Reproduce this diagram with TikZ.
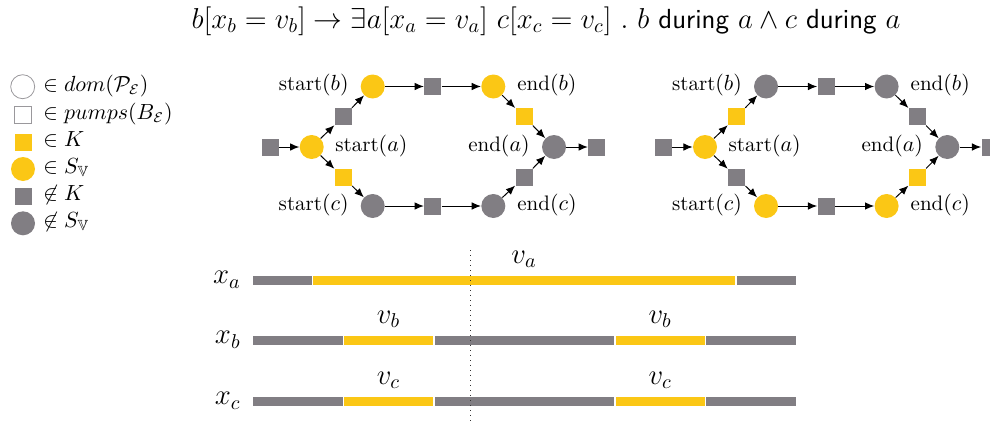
\documentclass[tikz,border=0pt]{standalone}
\usepackage{amsmath,amssymb}
\usetikzlibrary{arrows.meta}
\definecolor{myyellow}{HTML}{FBC715}
\definecolor{mygray}{HTML}{817E83}
\begin{document}
\begin{tikzpicture}[x=0.5pt,y=-0.5pt,
  yc/.style={circle,fill=myyellow,minimum size=12pt,inner sep=0pt},
  gc/.style={circle,fill=mygray,minimum size=12pt,inner sep=0pt},
  ys/.style={rectangle,fill=myyellow,minimum size=8.5pt,inner sep=0pt},
  gs/.style={rectangle,fill=mygray,minimum size=8.5pt,inner sep=0pt},
  oc/.style={circle,draw=mygray!80,fill=white,line width=0.4pt,minimum size=12pt,inner sep=0pt},
  os/.style={rectangle,draw=mygray!80,fill=white,line width=0.4pt,minimum size=8.5pt,inner sep=0pt},
  arr/.style={-{Latex[length=4.6pt,width=3.8pt]},line width=0.5pt},
  lbl/.style={inner sep=0pt,font=\fontsize{10.5}{12}\selectfont},
  big/.style={inner sep=0pt,font=\fontsize{13.8}{16}\selectfont}
]
\useasboundingbox (0,0) rectangle (990,428);

% title
\node[big,anchor=base] (title) at (546,28) {$b[x_b = v_b] \rightarrow \exists a[x_a = v_a]\ c[x_c = v_c]\ .\ b\ \textsf{during}\ a \wedge c\ \textsf{during}\ a$};

% legend
\node[oc] (l1) at (22.7,86.7) {};
\node[os] (l2) at (23,115) {};
\node[ys] (l3) at (23,142) {};
\node[yc] (l4) at (23,169) {};
\node[gs] (l5) at (23,196.5) {};
\node[gc] (l6) at (23,223.3) {};
\node[lbl,anchor=mid west] (t1) at (43,86.7) {$\in dom(\mathcal{P}_{\mathcal{E}})$};
\node[lbl,anchor=mid west] (t2) at (43,115) {$\in pumps(B_{\mathcal{E}})$};
\node[lbl,anchor=mid west] (t3) at (43,142) {$\in K$};
\node[lbl,anchor=mid west] (t4) at (43,169) {$\in S_{\mathbb{V}}$};
\node[lbl,anchor=mid west] (t5) at (43,196.5) {$\not\in K$};
\node[lbl,anchor=mid west] (t6) at (43,223.3) {$\not\in S_{\mathbb{V}}$};

% graph 1
\node[gs] (Ain) at (270,147) {};
\node[yc] (Asa) at (311.7,147) {};
\node[gs] (Aq1) at (343.3,116.7) {};
\node[yc] (Asb) at (372.7,86.5) {};
\node[gs] (Aq2) at (432.7,86.5) {};
\node[yc] (Aeb) at (493.3,86.5) {};
\node[ys] (Aq3) at (524,116.7) {};
\node[gc] (Aea) at (554,147) {};
\node[gs] (Aout) at (596.7,147) {};
\node[ys] (Aq4) at (343.3,177.3) {};
\node[gc] (Asc) at (372.7,206) {};
\node[gs] (Aq5) at (432.7,206) {};
\node[gc] (Aec) at (493.3,206) {};
\node[gs] (Aq6) at (524,177.3) {};
\draw[arr] (Ain) -- (Asa);
\draw[arr] (Asa) -- (Aq1);
\draw[arr] (Aq1) -- (Asb);
\draw[arr] (Asb) -- (Aq2);
\draw[arr] (Aq2) -- (Aeb);
\draw[arr] (Aeb) -- (Aq3);
\draw[arr] (Aq3) -- (Aea);
\draw[arr] (Aea) -- (Aout);
\draw[arr] (Asa) -- (Aq4);
\draw[arr] (Aq4) -- (Asc);
\draw[arr] (Asc) -- (Aq5);
\draw[arr] (Aq5) -- (Aec);
\draw[arr] (Aec) -- (Aq6);
\draw[arr] (Aq6) -- (Aea);
\node[lbl,anchor=mid east] (Alsb) at (349,86.5) {start$(b)$};
\node[lbl,anchor=mid west] (Alsa) at (335,147) {start$(a)$};
\node[lbl,anchor=mid west] (Aleb) at (517,86.5) {end$(b)$};
\node[lbl,anchor=mid east] (Alea) at (530,147) {end$(a)$};
\node[lbl,anchor=mid east] (Alsc) at (349,206) {start$(c)$};
\node[lbl,anchor=mid west] (Alec) at (517,206) {end$(c)$};

% graph 2
\begin{scope}[shift={(393.3,0)}]
\node[gs] (Bin) at (270,147) {};
\node[yc] (Bsa) at (311.7,147) {};
\node[ys] (Bq1) at (343.3,116.7) {};
\node[gc] (Bsb) at (372.7,86.5) {};
\node[gs] (Bq2) at (432.7,86.5) {};
\node[gc] (Beb) at (493.3,86.5) {};
\node[gs] (Bq3) at (524,116.7) {};
\node[gc] (Bea) at (554,147) {};
\node[gs] (Bout) at (596.7,147) {};
\node[gs] (Bq4) at (343.3,177.3) {};
\node[yc] (Bsc) at (372.7,206) {};
\node[gs] (Bq5) at (432.7,206) {};
\node[yc] (Bec) at (493.3,206) {};
\node[ys] (Bq6) at (524,177.3) {};
\draw[arr] (Bin) -- (Bsa);
\draw[arr] (Bsa) -- (Bq1);
\draw[arr] (Bq1) -- (Bsb);
\draw[arr] (Bsb) -- (Bq2);
\draw[arr] (Bq2) -- (Beb);
\draw[arr] (Beb) -- (Bq3);
\draw[arr] (Bq3) -- (Bea);
\draw[arr] (Bea) -- (Bout);
\draw[arr] (Bsa) -- (Bq4);
\draw[arr] (Bq4) -- (Bsc);
\draw[arr] (Bsc) -- (Bq5);
\draw[arr] (Bq5) -- (Bec);
\draw[arr] (Bec) -- (Bq6);
\draw[arr] (Bq6) -- (Bea);
\node[lbl,anchor=mid east] (Blsb) at (349,86.5) {start$(b)$};
\node[lbl,anchor=mid west] (Blsa) at (335,147) {start$(a)$};
\node[lbl,anchor=mid west] (Bleb) at (517,86.5) {end$(b)$};
\node[lbl,anchor=mid east] (Blea) at (530,147) {end$(a)$};
\node[lbl,anchor=mid east] (Blsc) at (349,206) {start$(c)$};
\node[lbl,anchor=mid west] (Blec) at (517,206) {end$(c)$};
\end{scope}

% timelines
\fill[mygray] (252.7,275.95) rectangle (311.75,284.65);
\fill[myyellow] (313.25,275.95) rectangle (735.25,284.65);
\fill[mygray] (736.75,275.95) rectangle (796,284.65);

\fill[mygray] (252.7,335.95) rectangle (342.5,344.65);
\fill[myyellow] (344,335.95) rectangle (433.05,344.65);
\fill[mygray] (434.55,335.95) rectangle (614.15,344.65);
\fill[myyellow] (615.65,335.95) rectangle (704.7,344.65);
\fill[mygray] (706.2,335.95) rectangle (796,344.65);

\fill[mygray] (252.7,396.95) rectangle (342.5,405.65);
\fill[myyellow] (344,396.95) rectangle (433.05,405.65);
\fill[mygray] (434.55,396.95) rectangle (614.15,405.65);
\fill[myyellow] (615.65,396.95) rectangle (704.7,405.65);
\fill[mygray] (706.2,396.95) rectangle (796,405.65);

\draw[dotted,line width=0.5pt,black!80] (470,250) -- (470,424);

\node[big,anchor=base east] (xa) at (241,283.8) {$x_a$};
\node[big,anchor=base east] (xb) at (241,343.8) {$x_b$};
\node[big,anchor=base east] (xc) at (241,404.8) {$x_c$};
\node[big,anchor=base] (va) at (524,263) {$v_a$};
\node[big,anchor=base] (vb1) at (388.5,323) {$v_b$};
\node[big,anchor=base] (vb2) at (660.2,323) {$v_b$};
\node[big,anchor=base] (vc1) at (388.5,384) {$v_c$};
\node[big,anchor=base] (vc2) at (660.2,384) {$v_c$};
\end{tikzpicture}
\end{document}
